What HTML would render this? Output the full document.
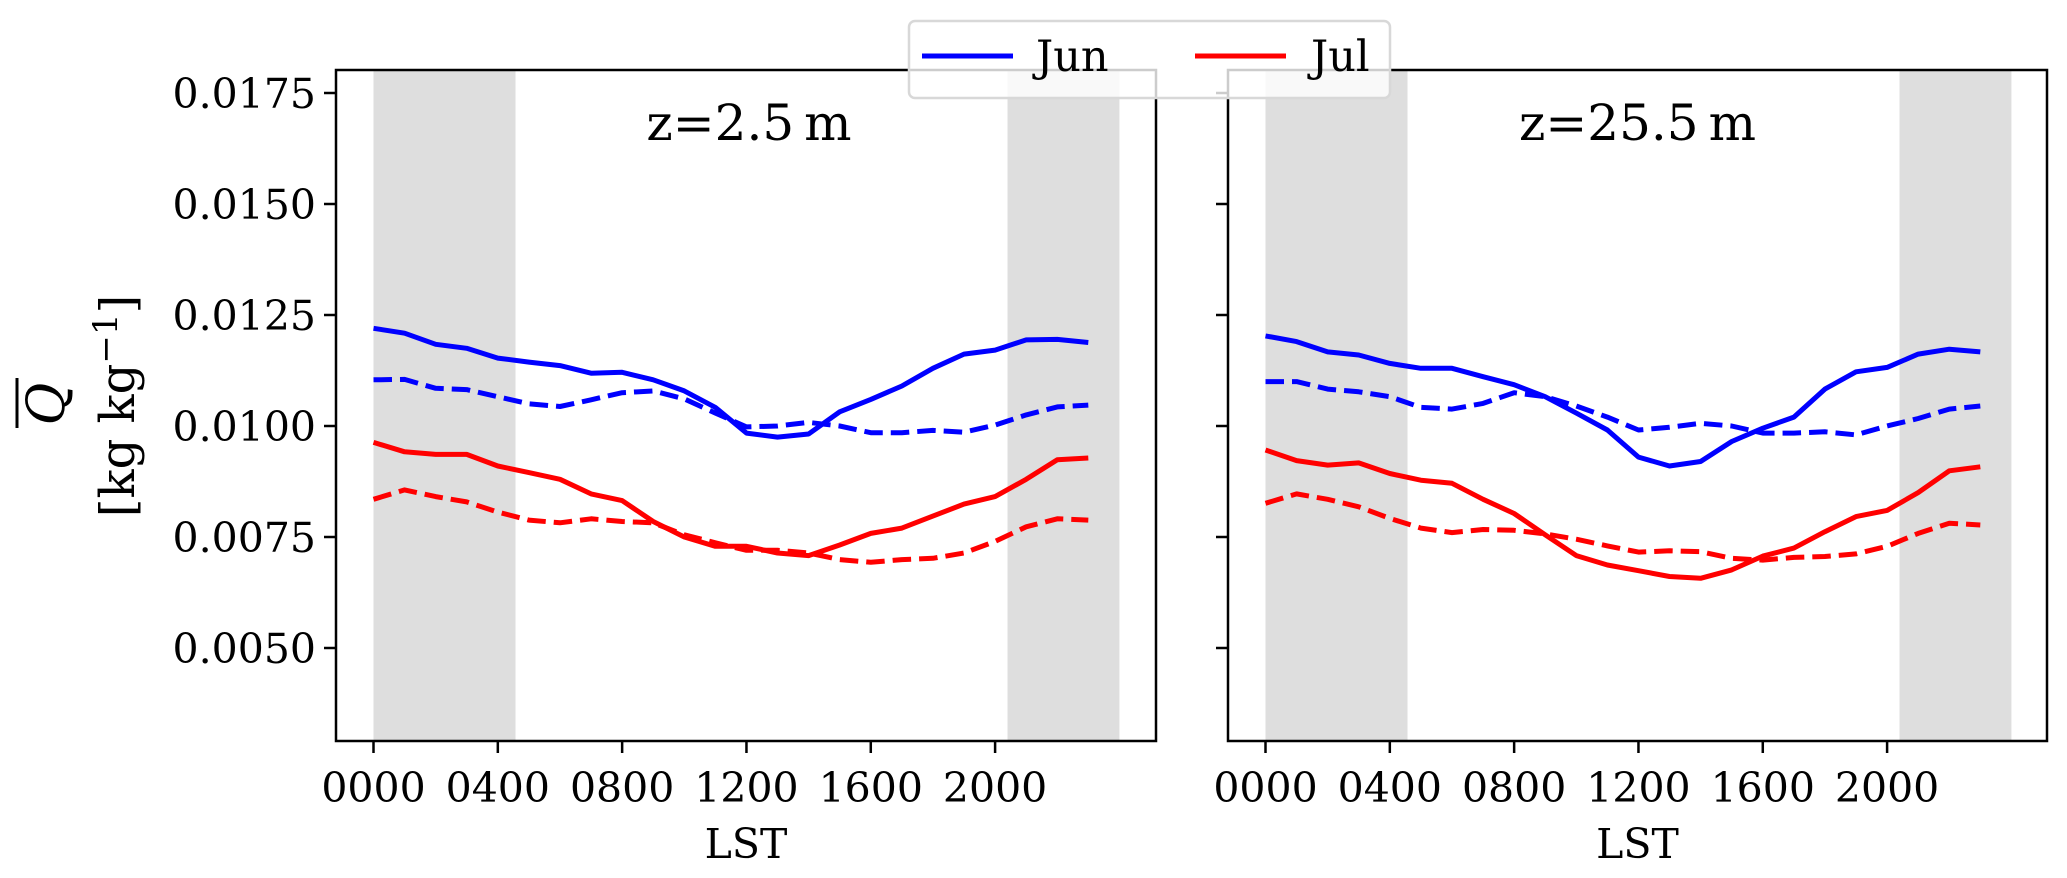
<!DOCTYPE html>
<html><head><meta charset="utf-8"><style>
html,body{margin:0;padding:0;background:#fff}
svg{display:block}
text{font-family:"DejaVu Serif","Liberation Serif",serif;fill:#000}
</style></head><body>
<svg id="chart" width="2067" height="878" xmlns="http://www.w3.org/2000/svg">
<g id="root"></g>
</svg>
<script>
const hours=[0,1,2,3,4,5,6,7,8,9,10,11,12,13,14,15,16,17,18,19,20,21,22,23];
const yTicks=[0.0050,0.0075,0.0100,0.0125,0.0150,0.0175];
const yTickLabels=["0.0050","0.0075","0.0100","0.0125","0.0150","0.0175"];
const xTicks=[0,4,8,12,16,20];
const xTickLabels=["0000","0400","0800","1200","1600","2000"];
const nightShades=[[0,4.57],[20.4,24.0]];
const panelTitles=["z=2.5\u2009m","z=25.5\u2009m"];
// panel 1 (z=2.5 m)
const p1JunSolid=[0.01220,0.01209,0.01184,0.01175,0.01153,0.01144,0.01136,0.01119,0.01121,0.01104,0.01079,0.01042,0.00984,0.00975,0.00982,0.01032,0.01060,0.01090,0.01130,0.01162,0.01171,0.01194,0.01195,0.01188];
const p1JunDash=[0.01104,0.01105,0.01085,0.01082,0.01066,0.01050,0.01044,0.01059,0.01075,0.01079,0.01061,0.01029,0.00998,0.01000,0.01008,0.01000,0.00985,0.00985,0.00990,0.00986,0.01002,0.01025,0.01043,0.01047];
const p1JulSolid=[0.00963,0.00942,0.00936,0.00936,0.00910,0.00895,0.00880,0.00847,0.00832,0.00785,0.00750,0.00729,0.00729,0.00714,0.00708,0.00732,0.00758,0.00770,0.00797,0.00824,0.00841,0.00880,0.00924,0.00928];
const p1JulDash=[0.00835,0.00856,0.00841,0.00829,0.00806,0.00788,0.00782,0.00791,0.00785,0.00782,0.00755,0.00737,0.00720,0.00720,0.00714,0.00699,0.00693,0.00699,0.00702,0.00714,0.00740,0.00773,0.00791,0.00788];
// panel 2 (z=25.5 m)
const p2JunSolid=[0.01203,0.01190,0.01167,0.01160,0.01141,0.01130,0.01130,0.01111,0.01093,0.01066,0.01029,0.00991,0.00930,0.00910,0.00920,0.00965,0.00995,0.01020,0.01083,0.01122,0.01132,0.01162,0.01173,0.01167];
const p2JunDash=[0.01100,0.01100,0.01083,0.01077,0.01066,0.01042,0.01038,0.01051,0.01075,0.01066,0.01045,0.01020,0.00991,0.00997,0.01006,0.01000,0.00984,0.00984,0.00987,0.00980,0.01000,0.01017,0.01038,0.01045];
const p2JulSolid=[0.00946,0.00922,0.00912,0.00917,0.00893,0.00878,0.00871,0.00835,0.00803,0.00755,0.00708,0.00687,0.00674,0.00661,0.00657,0.00676,0.00707,0.00725,0.00762,0.00796,0.00810,0.00850,0.00899,0.00908];
const p2JulDash=[0.00826,0.00847,0.00835,0.00818,0.00792,0.00770,0.00760,0.00767,0.00765,0.00757,0.00745,0.00730,0.00716,0.00719,0.00717,0.00702,0.00698,0.00704,0.00706,0.00712,0.00729,0.00758,0.00781,0.00777];

const NS="http://www.w3.org/2000/svg";
const root=document.getElementById('root');
function mk(tag,attrs,parent){const e=document.createElementNS(NS,tag);for(const k in attrs)e.setAttribute(k,attrs[k]);(parent||root).appendChild(e);return e;}

const panels=[
 {left:336,right:1156,series:[p1JunSolid,p1JunDash,p1JulSolid,p1JulDash],name:'panel-z2-5'},
 {left:1228,right:2047,series:[p2JunSolid,p2JunDash,p2JulSolid,p2JulDash],name:'panel-z25-5'}
];
const axTop=70,axBottom=741;
const yScale=v=>93+(0.0175-v)/0.0025*111;

panels.forEach((p,pi)=>{
  const x0=p.left+37.5;
  const xScale=h=>x0+h*31.08;
  const g=mk('g',{});
  
  
  nightShades.forEach(s=>{
    const r=mk('rect',{x:xScale(s[0]),y:axTop,width:xScale(s[1])-xScale(s[0]),height:axBottom-axTop,fill:'#dedede'},g);
    
    
  });
  const cols=['#0000ff','#0000ff','#ff0000','#ff0000'];
  const names=['jun-line-solid','jun-line-dashed','jul-line-solid','jul-line-dashed'];
  p.series.forEach((arr,si)=>{
    const d=arr.map((v,i)=>(i?'L':'M')+xScale(hours[i]).toFixed(1)+' '+yScale(v).toFixed(1)).join(' ');
    const a={d:d,fill:'none',stroke:cols[si],'stroke-width':5,'stroke-linejoin':'round'};
    if(si%2===1){a['stroke-dasharray']='18.5 8';}
    const path=mk('path',a,g);
    
    
  });
  const frame=mk('rect',{x:p.left,y:axTop,width:p.right-p.left,height:axBottom-axTop,fill:'none',stroke:'#000','stroke-width':2.5},g);
  
  
  yTicks.forEach((v,i)=>{
    const y=yScale(v);
    const t=mk('line',{x1:p.left-12,x2:p.left,y1:y,y2:y,stroke:'#000','stroke-width':2.5},g);
    
    
    if(pi===0){
      const tx=mk('text',{x:p.left-20,y:y+15,'text-anchor':'end','font-size':41},g);
      tx.textContent=yTickLabels[i];
      
      
    }
  });
  xTicks.forEach((h,i)=>{
    const x=xScale(h);
    const t=mk('line',{x1:x,x2:x,y1:axBottom,y2:axBottom+12,stroke:'#000','stroke-width':2.5},g);
    
    
    const tx=mk('text',{x:x,y:802,'text-anchor':'middle','font-size':41},g);
    tx.textContent=xTickLabels[i];
    
    
  });
  const xl=mk('text',{x:(p.left+p.right)/2,y:858,'text-anchor':'middle','font-size':41},g);
  xl.textContent='LST';
  
  
  const tt=mk('text',{x:(p.left+p.right)/2+(pi===0?3:0),y:140,'text-anchor':'middle','font-size':50},g);
  tt.textContent=panelTitles[pi];
  
  
});

// y-axis title
const yl=mk('g',{});


const q=mk('text',{x:0,y:0,'text-anchor':'middle','font-size':52,'font-style':'italic',transform:'translate(64,404) rotate(-90)'},yl);
q.textContent='Q';
mk('line',{x1:17,x2:17,y1:378,y2:428,stroke:'#000','stroke-width':3},yl);
const un=mk('text',{x:0,y:0,'text-anchor':'middle','font-size':48,transform:'translate(134,406) rotate(-90)'},yl);
un.innerHTML='[kg kg<tspan dy="-17" font-size="34">\u22121</tspan><tspan dy="17">]</tspan>';

// legend
const lg=mk('g',{});


mk('rect',{x:909,y:21,width:481,height:77,rx:6,fill:'#fff','fill-opacity':0.8,stroke:'#d8d8d8','stroke-width':2.5},lg);
const l1=mk('line',{x1:922,x2:1013,y1:56,y2:56,stroke:'#0000ff','stroke-width':5},lg);


const t1=mk('text',{x:1036,y:71,'font-size':43},lg);
t1.textContent='Jun';


const l2=mk('line',{x1:1195,x2:1286,y1:56,y2:56,stroke:'#ff0000','stroke-width':5},lg);


const t2=mk('text',{x:1311,y:71,'font-size':43},lg);
t2.textContent='Jul';


</script>
</body></html>
